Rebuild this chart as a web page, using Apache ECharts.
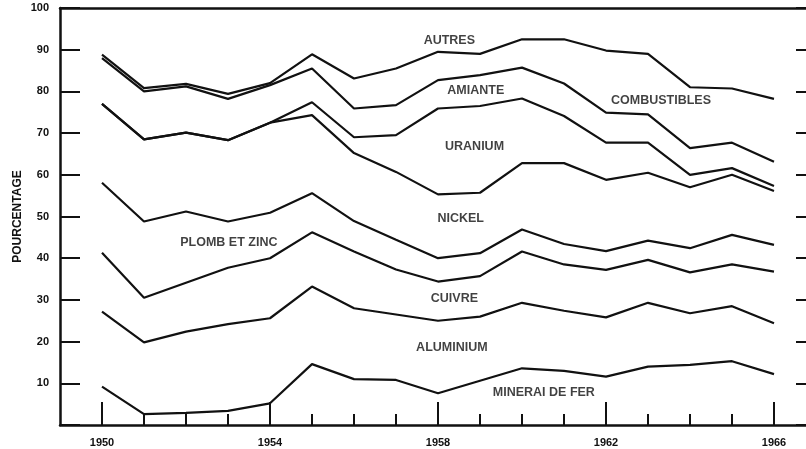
<!DOCTYPE html>
<html>
<head>
<meta charset="utf-8">
<script src="https://cdn.jsdelivr.net/npm/echarts@6/dist/echarts.min.js"></script>
<style>
  html, body { margin: 0; padding: 0; background: #fff; }
  #chart { width: 806px; height: 449px; }
</style>
</head>
<body>
<div id="chart"></div>
<script>
// années
const years = [1950, 1951, 1952, 1953, 1954, 1955, 1956, 1957, 1958, 1959, 1960, 1961, 1962, 1963, 1964, 1965, 1966]
const yearLabels = [1950, 1954, 1958, 1962, 1966]

// limites cumulées (%), du haut vers le bas
const topCombustibles = [88.8, 80.8, 81.8, 79.4, 82.0, 88.9, 83.1, 85.5, 89.5, 89.0, 92.5, 92.5, 89.8, 89.0, 81.0, 80.7, 78.2]
const topAmiante = [88.0, 80.0, 81.2, 78.2, 81.5, 85.5, 75.9, 76.7, 82.7, 83.9, 85.7, 81.9, 74.9, 74.5, 66.4, 67.7, 63.1]
const topUranium = [77.0, 68.5, 70.1, 68.3, 72.5, 77.4, 69.0, 69.5, 75.9, 76.5, 78.3, 74.1, 67.7, 67.7, 60.0, 61.6, 57.3]
const topNickel = [77.0, 68.5, 70.1, 68.3, 72.5, 74.3, 65.2, 60.7, 55.3, 55.7, 62.8, 62.8, 58.8, 60.5, 57.0, 60.0, 56.1]
const topPlombZinc = [58.1, 48.8, 51.2, 48.8, 50.9, 55.6, 48.9, 44.4, 40.0, 41.2, 46.9, 43.4, 41.7, 44.2, 42.4, 45.6, 43.2]
const topCuivre = [41.3, 30.5, 34.1, 37.7, 40.0, 46.2, 41.6, 37.3, 34.4, 35.7, 41.6, 38.5, 37.2, 39.6, 36.6, 38.5, 36.8]
const topAluminium = [27.2, 19.8, 22.4, 24.2, 25.6, 33.2, 28.0, 26.5, 25.0, 26.0, 29.3, 27.4, 25.8, 29.3, 26.8, 28.5, 24.4]
const topMinerai = [9.2, 2.6, 2.9, 3.4, 5.2, 14.6, 11.0, 10.8, 7.6, 10.6, 13.6, 13.0, 11.6, 14.0, 14.4, 15.3, 12.2]

// étiquettes des zones (position en coordonnées du graphique)
const areaNames = ['AUTRES', 'AMIANTE', 'COMBUSTIBLES', 'URANIUM', 'NICKEL', 'PLOMB ET ZINC', 'CUIVRE', 'ALUMINIUM', 'MINERAI DE FER']
const areaX = [1958.27, 1958.9, 1963.31, 1958.87, 1958.54, 1953.02, 1958.39, 1958.33, 1960.52]
const areaY = [92.3, 80.1, 77.9, 66.7, 49.5, 43.8, 30.3, 18.6, 7.9]

const boundaries = [topCombustibles, topAmiante, topUranium, topNickel, topPlombZinc, topCuivre, topAluminium, topMinerai]

const font = 'Liberation Sans'
const chart = echarts.init(document.getElementById('chart'))

const lineSeries = boundaries.map((arr) => ({
  type: 'line',
  data: years.map((y, i) => [y, arr[i]]),
  showSymbol: false,
  silent: true,
  lineStyle: { color: '#111', width: 2.2 },
  xAxisIndex: 0,
  yAxisIndex: 0
}))

chart.setOption({
  animation: false,
  grid: { left: 60, right: -10, top: 8, bottom: 24, outerBoundsMode: 'none' },
  xAxis: [
    {
      type: 'value',
      position: 'bottom',
      min: 1949,
      max: 1967,
      interval: 1,
      axisLine: { lineStyle: { color: '#111', width: 2.5 } },
      axisTick: { inside: true, length: 11, customValues: years, lineStyle: { color: '#111', width: 2 } },
      axisLabel: {
        customValues: yearLabels,
        margin: 12,
        color: '#111',
        fontFamily: font,
        fontWeight: 'bold',
        fontSize: 11,
        formatter: (v) => String(v)
      },
      splitLine: { show: false }
    },
    {
      type: 'value',
      position: 'bottom',
      min: 1949,
      max: 1967,
      interval: 1,
      axisLine: { show: false },
      axisTick: { inside: true, length: 23, customValues: yearLabels, lineStyle: { color: '#111', width: 2 } },
      axisLabel: { show: false },
      splitLine: { show: false }
    },
    {
      type: 'value',
      position: 'top',
      min: 1949,
      max: 1967,
      axisLine: { lineStyle: { color: '#111', width: 2.5 } },
      axisTick: { show: false },
      axisLabel: { show: false },
      splitLine: { show: false }
    }
  ],
  yAxis: [
    {
      type: 'value',
      min: 0,
      max: 100,
      interval: 10,
      name: 'POURCENTAGE',
      nameLocation: 'middle',
      nameRotate: 90,
      nameGap: 36,
      nameMoveOverlap: false,
      nameTextStyle: { color: '#111', fontFamily: font, fontWeight: 'bold', fontSize: 12 },
      axisLine: { show: true, lineStyle: { color: '#111', width: 2.5 } },
      axisTick: { inside: true, length: 20, lineStyle: { color: '#111', width: 2 } },
      axisLabel: {
        margin: 11,
        color: '#111',
        fontFamily: font,
        fontWeight: 'bold',
        fontSize: 11,
        formatter: (v) => (v === 0 ? '' : v)
      },
      splitLine: { show: false }
    },
    {
      type: 'value',
      position: 'right',
      min: 0,
      max: 100,
      interval: 10,
      axisLine: { show: false },
      axisTick: { show: true, inside: true, length: 20, lineStyle: { color: '#111', width: 2 } },
      axisLabel: { show: false },
      splitLine: { show: false }
    }
  ],
  series: [
    ...lineSeries,
    {
      type: 'scatter',
      symbolSize: 0,
      silent: true,
      data: areaNames.map((n, i) => [areaX[i], areaY[i], n]),
      label: {
        show: true,
        position: 'inside',
        formatter: (p) => p.value[2],
        color: '#111',
        fontFamily: font,
        fontWeight: 'bold',
        fontSize: 12.5
      }
    }
  ]
})
</script>
</body>
</html>
